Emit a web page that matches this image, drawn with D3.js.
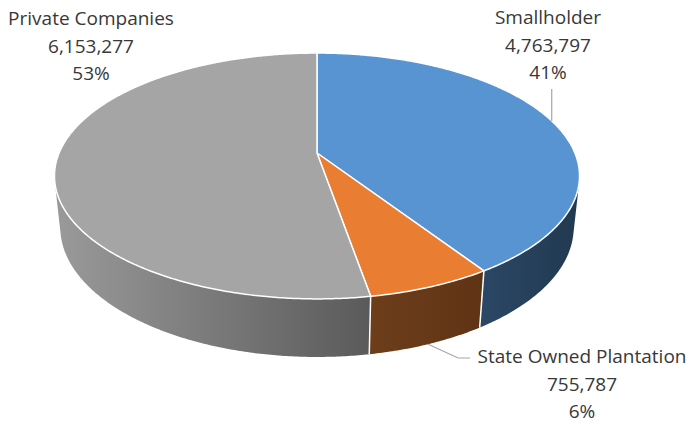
<!DOCTYPE html>
<html>
<head>
<meta charset="utf-8">
<script src="https://cdn.jsdelivr.net/npm/d3@7"></script>
<style>
  html, body { margin: 0; padding: 0; background: #ffffff; }
  svg { display: block; }
</style>
</head>
<body>
<svg id="chart" width="697" height="424"></svg>
<script>
// Plantation area by ownership
const categories = ["Smallholder", "State Owned Plantation", "Private Companies"];
const values = [4763797, 755787, 6153277];
const percentLabels = ["41%", "6%", "53%"];

// Top face colours and the light/dark ends of each side wall
const topColors = ["#5894D1", "#E97E33", "#A5A5A5"];
const wallLight = ["#2B4765", "#6E3E1B", "#9A9A9A"];
const wallDark  = ["#213950", "#5E3314", "#5A5A5A"];

// Camera / disc set-up for the tilted 3D pie
const view = {
  cx: 317, cy: 153,        // screen position of the disc centre
  focal: 1225,             // focal length in px
  dist: 4.75,              // camera distance (disc radius = 1)
  tilt: Math.asin(0.46),   // elevation of the camera
  depth: 0.2256            // disc thickness
};

// Label layout: anchor x and first baseline for each slice's label block
const labelLayout = [
  { x: 548, y: 24 },
  { x: 582, y: 363 },
  { x: 91,  y: 25 }
];
const lineGap = 27.5;

const svg = d3.select("#chart");
const defs = svg.append("defs");

// Project a point on the disc: angle phi (clockwise from 12 o'clock), radius r, height y
function project(phi, r, y) {
  const x = r * Math.sin(phi), z = -r * Math.cos(phi);
  const sa = Math.sin(view.tilt), ca = Math.cos(view.tilt);
  const d = view.dist - y * sa - z * ca;
  return [view.cx + view.focal * x / d,
          view.cy - view.focal * (y * ca - z * sa) / d];
}

function arcPoints(a0, a1, y) {
  const n = Math.max(2, Math.ceil(Math.abs(a1 - a0) / (Math.PI / 360)));
  return d3.range(n + 1).map(i => project(a0 + (a1 - a0) * i / n, 1, y));
}

const pie = d3.pie().sort(null).value(d => d)(values);
const line = d3.line();

// Range of angles where the outer wall faces the camera
const lim = Math.acos(-1 / (view.dist * Math.cos(view.tilt)));
const visStart = lim, visEnd = 2 * Math.PI - lim;

const walls = svg.append("g");
pie.forEach((s, i) => {
  const a = Math.max(s.startAngle, visStart), b = Math.min(s.endAngle, visEnd);
  if (b <= a) return;
  const top = arcPoints(a, b, 0);
  const bottom = arcPoints(b, a, -view.depth);
  const xs = top.map(p => p[0]);
  const gid = "wall" + i;
  const g = defs.append("linearGradient").attr("id", gid)
    .attr("gradientUnits", "userSpaceOnUse")
    .attr("x1", d3.min(xs)).attr("x2", d3.max(xs)).attr("y1", 0).attr("y2", 0);
  g.append("stop").attr("offset", 0).attr("stop-color", wallLight[i]);
  g.append("stop").attr("offset", 1).attr("stop-color", wallDark[i]);
  walls.append("path")
    .attr("d", line(top.concat(bottom)) + "Z")
    .attr("fill", `url(#${gid})`);
});

// White seams between neighbouring walls
pie.forEach(s => {
  const a = s.endAngle;
  if (a > visStart && a < visEnd) {
    walls.append("path")
      .attr("d", line([project(a, 1, 0), project(a, 1, -view.depth)]))
      .attr("stroke", "#ffffff").attr("stroke-width", 1.5).attr("fill", "none");
  }
});

// Top faces
const tops = svg.append("g");
pie.forEach((s, i) => {
  const pts = [project(0, 0, 0)].concat(arcPoints(s.startAngle, s.endAngle, 0));
  tops.append("path")
    .attr("d", line(pts) + "Z")
    .attr("fill", topColors[i])
    .attr("stroke", "#ffffff")
    .attr("stroke-width", 1.5)
    .attr("stroke-linejoin", "round");
});

// Leader lines
const leaders = svg.append("g").attr("stroke", "#A6A6A6").attr("stroke-width", 1.2).attr("fill", "none");
{
  const s = pie[0], mid = (s.startAngle + s.endAngle) / 2;
  const p = project(mid, 1, 0);
  leaders.append("path").attr("d", line([p, [p[0], labelLayout[0].y + 2 * lineGap + 10]]));
}
{
  const s = pie[1], mid = (s.startAngle + s.endAngle) / 2;
  const p = project(mid, 1, -view.depth);
  const ly = labelLayout[1].y - 5;
  leaders.append("path").attr("d", line([p, [p[0] + 30, ly], [p[0] + 42, ly]]));
}

// Labels
const fmt = d3.format(",");
const labels = svg.append("g")
  .attr("font-family", "'Open Sans', 'Noto Sans', sans-serif")
  .attr("font-size", 19)
  .attr("fill", "#383838")
  .attr("text-anchor", "middle");
pie.forEach((s, i) => {
  const t = labels.append("text").attr("x", labelLayout[i].x).attr("y", labelLayout[i].y);
  [categories[i], fmt(values[i]), percentLabels[i]].forEach((txt, k) => {
    t.append("tspan").attr("x", labelLayout[i].x).attr("y", labelLayout[i].y + k * lineGap).text(txt);
  });
});
</script>
</body>
</html>
